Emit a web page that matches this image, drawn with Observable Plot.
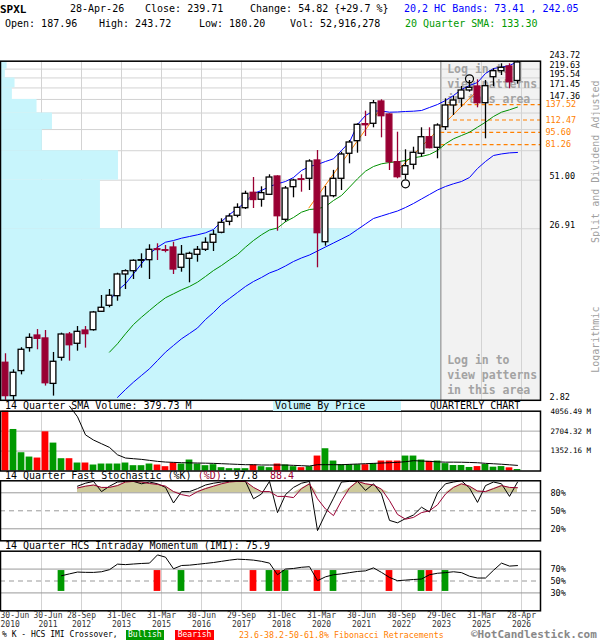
<!DOCTYPE html>
<html><head><meta charset="utf-8">
<script src="https://cdn.jsdelivr.net/npm/d3@7"></script>
<script src="https://cdn.jsdelivr.net/npm/@observablehq/plot@0.6"></script>
<style>
body{margin:0;background:#fff;}
#chart{position:relative;width:600px;height:640px;overflow:hidden;font-family:"DejaVu Sans Mono",monospace;background:#fff;}
.t{position:absolute;white-space:pre;line-height:1;}
</style></head><body><div id="chart"></div><script>
// ---------- DATA ----------
const open  = [4.62,2.98,4.14,5.60,6.61,6.36,3.50,4.93,6.70,5.93,7.06,7.09,9.03,9.77,11.09,14.75,15.40,17.66,17.80,20.55,20.30,21.03,16.11,18.13,19.11,20.41,22.38,25.53,29.49,31.92,35.27,43.18,39.40,42.06,53.50,30.28,46.49,51.60,51.91,66.05,22.55,41.30,51.91,72.13,85.13,106.5,107.0,143.46,120.92,64.59,54.71,62.41,72.13,89.70,78.04,102.33,136.1,148.65,165.82,174.77,140.29,197.45,213.74,227.3,187.96];
const high  = [5.20,4.21,5.63,6.76,7.15,7.06,5.29,6.82,6.88,7.44,7.44,9.07,11.19,12.11,15.0,15.69,17.89,19.36,21.80,22.09,21.59,22.55,21.59,19.78,21.31,23.89,26.30,30.68,32.76,37.36,44.11,52.80,46.73,54.71,54.0,46.92,51.64,54.71,66.66,75.32,46.92,58.0,73.67,85.92,107.0,126.28,145.35,146.70,122.04,95.81,76.02,78.66,101.52,101.52,107.0,148.65,153.23,174.77,189.1,190.85,189.1,220.54,235.5,235.5,243.72];
const low   = [2.82,2.82,3.94,5.31,5.48,3.40,2.98,4.72,4.72,5.38,5.60,7.00,8.95,9.52,10.38,12.11,13.81,16.02,13.81,17.73,19.62,14.75,15.20,13.22,17.34,19.96,19.96,25.19,27.99,31.09,34.67,35.13,35.74,41.68,26.06,29.34,40.44,43.53,44.51,16.11,21.40,40.44,44.51,63.23,72.70,90.53,101.52,88.99,57.91,51.91,51.43,58.45,68.98,77.02,67.54,98.0,119.34,133.1,162.2,132.07,87.84,174.77,201.9,169.6,180.20];
const close = [2.98,4.05,5.48,6.41,6.33,3.53,4.68,6.70,5.82,6.94,6.73,8.95,9.52,11.15,14.75,15.40,17.66,17.80,20.41,20.35,20.15,15.75,19.11,19.36,20.41,22.38,24.86,29.11,31.62,35.45,42.62,39.28,43.0,52.80,31.74,45.70,50.76,51.20,65.19,25.39,41.13,51.91,71.47,83.69,105.6,105.0,140.29,118.25,64.59,53.02,61.27,73.08,89.70,77.63,104.64,136.1,145.35,165.82,171.8,140.29,175.46,213.74,223.46,184.9,239.71];
const volume = [4056.49,2817,1239,946,879,2659,1893,834,834,541,541,406,473,473,473,541,361,361,473,406,293,541,473,744,473,361,428,225,158,158,158,406,293,225,473,406,293,225,293,1014,1510,676,428,428,428,428,496,676,676,676,1014,1014,744,654,676,500,372,372,240,300,439,260,300,216,100];
const volSmaStart = 8;
const volSma = [4400,3680,2450,2100,1850,1600,1100,880,834,789,721,654,608,586,563,552,541,530,518,496,473,451,428,428,406,406,406,406,383,361,338,428,428,428,428,451,473,496,518,541,563,586,631,699,676,654,620,600,600,595,580,560,520,490,460,420,379.73];
const sma20Start = 13;
const sma20 = [5.31,5.93,6.76,7.64,8.41,9.19,10.03,10.86,11.44,12.06,12.60,13.33,14.37,15.54,16.60,17.89,19.18,21.12,23.06,24.86,26.48,27.19,29.53,31.21,33.46,34.67,34.99,36.07,39.02,41.68,46.49,51.91,57.38,61.03,63.23,64.33,64.93,66.05,68.44,69.61,71.47,75.32,82.27,87.84,91.73,95.81,102.33,109.27,117.78,124.63,128.63,133.30];
const bandUpperStart = 13;
const bandUpper = [10.47,11.95,13.05,14.89,16.98,19.36,21.12,22.55,23.06,23.77,24.31,24.86,25.52,26.66,29.61,32.46,35.13,38.16,42.79,44.51,46.92,48.62,50.11,52.81,57.91,61.03,62.66,65.19,67.54,75.32,84.02,106.02,119.34,126.61,126.61,124.63,124.96,125.79,126.28,127.45,132.58,137.91,145.35,155.25,168.01,177.08,184.21,207.37,221.41,225.24,230.32,242.05];
const bandLowerStart = 14;
const bandLower = [2.93,3.25,3.58,3.91,4.27,4.76,5.31,5.80,6.33,6.79,7.30,8.16,8.95,9.94,10.76,11.64,12.60,13.45,14.18,15.05,15.65,16.50,17.50,18.33,19.06,20.09,21.18,22.32,23.52,24.80,26.66,28.65,30.80,31.83,32.90,33.99,35.59,37.52,39.81,42.23,44.81,46.92,48.62,50.11,52.81,59.44,65.19,70.53,72.0,73.0,73.41];
const stochStart = 9;
const stochK = [91,96,99,82,91,98,99,99,95,98,95,89,63,82,82,87,93,96,98,99,99,99,70,78,99,47,77,89,96,99,17,45,71,98,99,99,84,95,78,34,30,37,43,56,48,80,95,98,100,88,64,92,98,95,74,97.8];
const stochD = [88,91,93,89,89,92,98,99,98,95.5,94,91,82,77,74.4,82,87,91,95,98,99,99,89,82,82,74,74,72,87,95,70,53,42,67,88,99,95,93,86,67,44,36,39,47,50,60,78,89,95,91,83,82,87,92,89,88.4];
const imiStart = 7;
const imi = [58.8,62,65,64.5,64.4,65.5,69,78.3,77.5,78.5,79.4,80,93.8,90,70.5,76,76.6,78,79.5,81,83,85,86.6,86,85,83,80,60.5,70,71,73,74,50.5,57,60.5,62,64,66,67,72,64.4,56,50.5,51.5,52.5,53.3,60.5,63,64,65.5,64,58,55,55,68,80,75,75.9];
const crossIdx  = [7,19,22,31,33,34,35,39,41,48,52,53,55];
const crossType = ["bull","bear","bull","bear","bull","bear","bull","bear","bull","bear","bull","bear","bull"];
const priceTicks = [2.82,26.91,51.00,75.09,99.18,123.27,147.36,171.45,195.54,219.63,243.72];
const priceTickLabels = [2.82,26.91,51.00,147.36,171.45,195.54,219.63];
const priceTopLabel = 243.72;
const vbpShare = [100,22.7,26.8,9.5,11.8,8.3,2.7,3.3,1.1,1.5]; // per price bin, bottom to top
const fibLevels = [137.52,112.47,95.60,81.26];
const fibFrom   = [55.2,56.0,54.4,52.7];
const trendFromIdx = [37.9,49.0], trendFromPrice = [35.27,57.91];
const trendToIdx   = [46.9,59.4], trendToPrice   = [130.35,173.2];
const patternIdx = [50,58], patternPrice = [48.62,193.4];
const volTicks = [4056.49,2704.32,1352.16];
const stochTicks = [80,50,20];
const imiTicks = [70,50,30];
const tickX = [4.5,9.5,14.5,19.5,24.5,29.5,34.5,39.5,44.5,49.5,54.5,59.5,64.5];
const tickLabel = ["30-Jun\n2011","28-Sep\n2012","31-Dec\n2013","31-Mar\n2015","30-Jun\n2016","29-Sep\n2017","31-Dec\n2018","31-Mar\n2020","30-Jun\n2021","30-Sep\n2022","29-Dec\n2023","31-Mar\n2025","28-Apr\n2026"];
const firstTickLabel = "30-Jun\n2010";
const lockedStart = 54.4;

// ---------- STYLE ----------
const FONT = "'DejaVu Sans Mono', monospace";
const CANDLE_RED = "#990033", RED = "#ff0000", GREEN = "#009900", BLUE = "#0000ff";
const SMA_GREEN = "#009000", ORANGE = "#ff8000", CYAN = "#c8f5fc", KHAKI = "#cdc99a";
const GRID = "#d3d3d3", CRIMSON = "#990033";
const xDomain = [-0.625, 66.875];
const chart = document.getElementById("chart");

const series = (start, arr) => arr.map((v, k) => ({i: start + k, v}));
const candles = open.map((o, i) => ({i, open: o, high: high[i], low: low[i], close: close[i], down: close[i] < o}));
const vols = volume.map((v, i) => ({i, v, down: close[i] < open[i]}));
const vbp = vbpShare.map((s, k) => ({share: s, lo: priceTicks[k], hi: priceTicks[k + 1]}));
const vbpX = d3.scaleLinear([0, d3.max(vbpShare)], [xDomain[0], lockedStart]);
const fib = fibLevels.map((l, k) => ({level: l, start: fibFrom[k]}));
const trends = trendFromIdx.map((x, k) => ({x1: x, y1: trendFromPrice[k], x2: trendToIdx[k], y2: trendToPrice[k]}));
const patterns = patternIdx.map((x, k) => ({i: x, p: patternPrice[k]}));
const stoch = stochK.map((k, j) => ({i: stochStart + j, K: k, D: stochD[j]}));
const cross = crossIdx.map((x, k) => ({i: x, type: crossType[k]}));
const xTicks = tickX.map((x, k) => ({i: x, label: tickLabel[k]}));

function panel(top, height, mTop, mBottom, yOpts, marks) {
  const svg = Plot.plot({
    width: 600, height, marginTop: mTop, marginBottom: mBottom, marginLeft: 0, marginRight: 60,
    x: {domain: xDomain, axis: null},
    y: {...yOpts, axis: null},
    style: {background: "transparent", overflow: "visible", fontFamily: FONT},
    marks
  });
  svg.style.position = "absolute"; svg.style.left = "0px"; svg.style.top = top + "px";
  chart.appendChild(svg);
}
const frame = () => Plot.frame({stroke: "black", strokeWidth: 1.5});
const loginText = "Log in to\nview patterns\nin this area";
const loginOpts = {x: lockedStart, textAnchor: "start", dx: 6.5, lineAnchor: "middle", lineHeight: 1.3, fontSize: 11.5, fontWeight: "bold", fill: "#a3a3a3"};
const tickOpts = {x: "i", text: "label", frameAnchor: "bottom", lineAnchor: "top", dy: 1.5, fontSize: 8, lineHeight: 1.04, fill: "#333"};
const priceLabelOpts = {y: d => d, text: d => d.toFixed(2), frameAnchor: "right", dx: 9, textAnchor: "start", fontSize: 8.5, fill: "black"};

// ---------- PRICE PANEL ----------
panel(0, 402, 60.7, 2.2, {type: "log", domain: [2.82, 243.72]}, [
  Plot.rect([lockedStart], {x1: d => d, x2: xDomain[1], y1: priceTicks[0], y2: priceTicks[priceTicks.length - 1], fill: "#f2f2f2"}),
  Plot.ruleY(priceTicks, {stroke: GRID}),
  Plot.ruleX(tickX, {stroke: GRID}),
  Plot.rect(vbp, {x1: xDomain[0], x2: d => vbpX(d.share), y1: "lo", y2: "hi", fill: CYAN}),
  Plot.ruleX([lockedStart], {stroke: "#999"}),
  Plot.text([loginText], {...loginOpts, frameAnchor: "top", dy: 21.6}),
  Plot.text([loginText], {...loginOpts, frameAnchor: "bottom", dy: -25.8}),
  Plot.ruleY(fib, {y: "level", x1: "start", x2: xDomain[1], stroke: ORANGE, strokeDasharray: "4,3", strokeWidth: 1.2}),
  Plot.link(trends, {x1: "x1", y1: "y1", x2: "x2", y2: "y2", stroke: ORANGE, strokeWidth: 1}),
  Plot.line(series(bandLowerStart, bandLower), {x: "i", y: "v", stroke: BLUE, strokeWidth: 1}),
  Plot.line(series(bandUpperStart, bandUpper), {x: "i", y: "v", stroke: BLUE, strokeWidth: 1}),
  Plot.line(series(sma20Start, sma20), {x: "i", y: "v", stroke: SMA_GREEN, strokeWidth: 1}),
  Plot.ruleX(candles, {x: "i", y1: "low", y2: "high", stroke: d => d.down ? CANDLE_RED : "black", strokeWidth: 1.3}),
  Plot.rect(candles, {x1: d => d.i - 0.36, x2: d => d.i + 0.36, y1: "open", y2: "close",
    fill: d => d.down ? CANDLE_RED : "white", stroke: d => d.down ? CANDLE_RED : "black", strokeWidth: 1.3}),
  Plot.dot(patterns, {x: "i", y: "p", r: 4, stroke: "black", fill: "none", strokeWidth: 1.2}),
  frame(),
  Plot.text(priceTickLabels, {...priceLabelOpts, dy: -3.5}),
  Plot.text([priceTopLabel], {...priceLabelOpts, dy: -5.5}),
  Plot.text(fib, {y: "level", text: d => d.level.toFixed(2), frameAnchor: "right", dx: 5, textAnchor: "start", fontSize: 8.5, fill: ORANGE}),
  Plot.text(["Split and Dividend Adjusted"], {frameAnchor: "top-right", dx: 51, dy: 100.5, rotate: -90, textAnchor: "middle", fontSize: 10, fill: "#a0a0a0"}),
  Plot.text(["Logarithmic"], {frameAnchor: "top-right", dx: 51, dy: 278.5, rotate: -90, textAnchor: "middle", fontSize: 10, fill: "#a0a0a0"})
]);

// ---------- VOLUME PANEL ----------
panel(400, 72, 10.7, 1.5, {domain: [0, volTicks[0]]}, [
  Plot.ruleX(tickX, {stroke: GRID}),
  Plot.ruleY(volTicks.slice(1), {stroke: "#aaa"}),
  Plot.rect(vols, {x1: d => d.i - 0.42, x2: d => d.i + 0.42, y1: 0, y2: "v", fill: d => d.down ? RED : GREEN}),
  Plot.line(series(volSmaStart, volSma), {x: "i", y: "v", stroke: "black", strokeWidth: 1}),
  frame(),
  Plot.text(volTicks, {y: d => d, text: d => d.toFixed(2) + " M", frameAnchor: "right", dx: 10, textAnchor: "start", fontSize: 7.5, fill: "black"})
]);

// ---------- STOCHASTIC PANEL ----------
panel(470, 72, 10.3, 1.7, {domain: [0, 100]}, [
  Plot.ruleX(tickX, {stroke: GRID}),
  Plot.areaY(stoch, {x: "i", y1: 80, y2: d => Math.max(d.D, 80), fill: KHAKI}),
  Plot.ruleY([20, 80], {stroke: "#999"}),
  Plot.ruleY([50], {stroke: "#999", strokeDasharray: "5,4"}),
  Plot.line(stoch, {x: "i", y: "K", stroke: "black", strokeWidth: 1}),
  Plot.line(stoch, {x: "i", y: "D", stroke: CRIMSON, strokeWidth: 1}),
  frame(),
  Plot.text(stochTicks, {y: d => d, text: d => d + "%", frameAnchor: "right", dx: 10, textAnchor: "start", fontSize: 8.5, fill: "black"})
]);

// ---------- IMI PANEL ----------
panel(540, 100, 10.7, 29.7, {domain: [0, 100]}, [
  Plot.ruleX(tickX, {stroke: GRID}),
  Plot.ruleY([30, 70], {stroke: "#999"}),
  Plot.ruleY([50], {stroke: "#999", strokeDasharray: "5,4"}),
  Plot.rect(cross, {x1: d => d.i - 0.42, x2: d => d.i + 0.42, y1: 32.5, y2: 67.5, fill: d => d.type === "bull" ? GREEN : RED}),
  Plot.line(series(imiStart, imi), {x: "i", y: "v", stroke: "black", strokeWidth: 1}),
  frame(),
  Plot.text(imiTicks, {y: d => d, text: d => d + "%", frameAnchor: "right", dx: 10, textAnchor: "start", fontSize: 8.5, fill: "black"}),
  Plot.text(xTicks.slice(1), tickOpts),
  Plot.text(xTicks.slice(0, 1), {...tickOpts, dx: 6.5}),
  Plot.text([firstTickLabel], {...tickOpts, x: xDomain[0], text: d => d, textAnchor: "start"})
]);

// ---------- TEXT ----------
function label(html, x, yc, size = 10, color = "#000", weight = "normal") {
  const el = document.createElement("div");
  el.className = "t";
  el.innerHTML = html;
  Object.assign(el.style, {left: x + "px", top: (yc - size * 0.48) + "px", fontSize: size + "px", color, fontWeight: weight});
  chart.appendChild(el);
  return el;
}
function box(txt, x, y, w, h, bg, color, size) {
  const el = document.createElement("div");
  el.className = "t";
  el.textContent = txt;
  Object.assign(el.style, {left: x + "px", top: y + "px", width: w + "px", height: h + "px", lineHeight: h + "px", background: bg, color, fontSize: size + "px", textAlign: "center"});
  chart.appendChild(el);
}
label("SPXL", 0, 9, 11, "#000", "bold");
label("28-Apr-26", 70, 9);
label("Close: 239.71", 145, 9);
label("Change: 54.82 {+29.7 %}", 250, 9);
label("20,2 HC Bands: 73.41 , 242.05", 404, 9, 10, BLUE);
label("Open: 187.96", 5, 24);
label("High: 243.72", 99, 24);
label("Low: 180.20", 199, 24);
label("Vol: 52,916,278", 290, 24);
label("20 Quarter SMA: 133.30", 405, 24, 10, GREEN);

label("14 Quarter SMA Volume: 379.73 M", 5, 405.5);
box("", 273, 401, 128, 9.5, CYAN, "#000", 10);
label("Volume By Price", 275, 405.5);
label("QUARTERLY CHART", 430, 405.5);
label('14 Quarter Fast Stochastic (%K) <span style="color:' + CRIMSON + '">(%D)</span>: 97.8  <span style="color:' + CRIMSON + '">88.4</span>', 5, 476);
label("14 Quarter HCS Intraday Momentum (IMI): 75.9", 5, 545.5);

label("% K - HCS IMI Crossover,", 2, 635, 8);
box("Bullish", 125.6, 630, 38.4, 9.5, GREEN, "#fff", 8);
box("Bearish", 175.4, 630, 38.4, 9.5, RED, "#fff", 8);
label("23.6-38.2-50-61.8% Fibonacci Retracements", 239, 635, 8.3, ORANGE);
label("©HotCandlestick.com", 471, 634, 11, "#888", "bold");
</script></body></html>
